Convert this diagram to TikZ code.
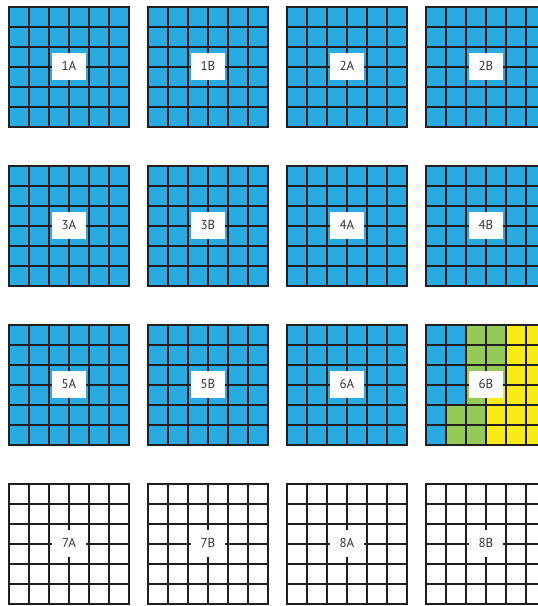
\documentclass[tikz,border=0pt]{standalone}
\usepackage{fontspec}
\setmainfont{PT Sans}
\definecolor{gblue}{HTML}{29ABE2}
\definecolor{ggreen}{HTML}{95C957}
\definecolor{gyellow}{HTML}{F6EB16}
\definecolor{lineblack}{HTML}{231F20}
\definecolor{textgray}{HTML}{333333}
\begin{document}
\begin{tikzpicture}[x=1pt,y=-1pt,
  gridline/.style={line width=2.4pt, draw=lineblack, line cap=rect},
  lbl/.style={fill=white, minimum width=34pt, minimum height=27pt, inner sep=0pt,
    font=\fontsize{13}{13}\selectfont, text=textgray}]
\useasboundingbox (0,0) rectangle (538,606);
\clip (0,0) rectangle (538,606);
\foreach \c/\r/\t/\f in {0/0/1A/gblue, 1/0/1B/gblue, 2/0/2A/gblue, 3/0/2B/gblue,
                         0/1/3A/gblue, 1/1/3B/gblue, 2/1/4A/gblue, 3/1/4B/gblue,
                         0/2/5A/gblue, 1/2/5B/gblue, 2/2/6A/gblue, 3/2/6B/gblue,
                         0/3/7A/white, 1/3/7B/white, 2/3/8A/white, 3/3/8B/white} {
  \begin{scope}[shift={(9+139*\c,7+159*\r)}]
    \fill[\f] (0,0) rectangle (120,120);
    \ifnum\c=3 \ifnum\r=2
      \fill[ggreen] (40,0) rectangle (80,60);
      \fill[ggreen] (40,60) rectangle (60,80);
      \fill[ggreen] (20,80) rectangle (60,120);
      \fill[gyellow] (80,0) rectangle (120,60);
      \fill[gyellow] (60,60) rectangle (120,120);
    \fi\fi
    \foreach \i in {0,...,6} {
      \draw[gridline] (20*\i,0) -- (20*\i,120);
      \draw[gridline] (0,20*\i) -- (120,20*\i);
    }
    \node[lbl] (g\t) at (60,59) {\t};
  \end{scope}
}
\end{tikzpicture}
\end{document}
